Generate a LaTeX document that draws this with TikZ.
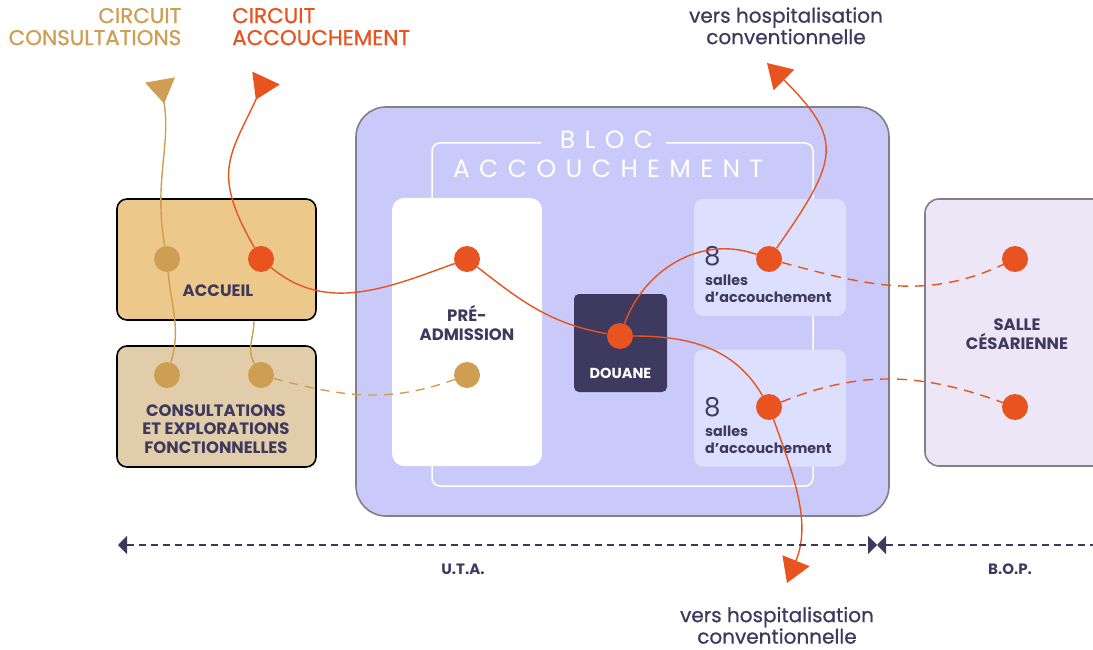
\documentclass[tikz,border=0pt]{standalone}
\usepackage{fontspec}
\setmainfont{Poppins}
\usetikzlibrary{arrows.meta, positioning}

\definecolor{ink}{HTML}{3E3A5F}
\definecolor{accor}{HTML}{E8531F}
\definecolor{consor}{HTML}{CE9E52}
\definecolor{blocfill}{HTML}{C9CAF9}
\definecolor{sallefill}{HTML}{DCDFFD}
\definecolor{accfill}{HTML}{ECC98A}
\definecolor{consfill}{HTML}{E2CDAA}
\definecolor{cesfill}{HTML}{ECE6F6}
\definecolor{rim}{HTML}{808086}

\begin{document}
\begin{tikzpicture}[
  x=1pt, y=-1pt,
  zone/.style={draw=black, line width=1.6pt, rounded corners=10pt,
    minimum width=199pt, minimum height=121pt, inner sep=0pt},
  room/.style={fill=sallefill, rounded corners=9pt,
    minimum width=152pt, minimum height=117pt, inner sep=0pt},
  spot/.style={circle, fill=#1, minimum size=26pt, inner sep=0pt},
  lbl/.style={text=ink, align=center, inner sep=0pt,
    font=\bfseries\fontsize{16.5}{18.5}\selectfont},
  hosp/.style={text=ink, align=center, inner sep=0pt,
    font=\fontsize{20}{21.5}\selectfont\addfontfeatures{FakeBold=0.8}},
  circuit/.style={inner sep=0pt,
    font=\fontsize{21.5}{22}\selectfont\addfontfeatures{FakeBold=0.8}},
  rtxt/.style={text=ink, inner sep=0pt, font=\bfseries\fontsize{14.3}{15}\selectfont},
  num/.style={text=ink, inner sep=0pt, font=\fontsize{26}{28}\selectfont},
  titre/.style={text=white, inner sep=0pt,
    font=\fontsize{25}{28}\selectfont\addfontfeatures{LetterSpace=37.5}},
  flow/.style={draw=accor, line width=1.4pt},
  cflow/.style={draw=consor, line width=1.4pt},
  outhead/.style={-{Triangle[length=24pt, width=29pt]}},
  inhead/.style={-{Triangle[reversed, length=24pt, width=30pt]}},
  ruler/.style={draw=ink, line width=1.5pt, dash pattern=on 7pt off 5pt}
]
\useasboundingbox (0,0) rectangle (1093,650);

% bloc accouchement
\node[draw=rim, fill=blocfill, line width=1.6pt, rounded corners=30pt,
  minimum width=533pt, minimum height=409pt, inner sep=0pt] (bloc) at (622.5,311.5) {};
\draw[white, line width=1.5pt, rounded corners=8pt]
  (541,143) -| (432,486) -| (813,143) -- (666,143);
\node[titre] (titre1) at (606.5,140) {BLOC};
\node[titre] (titre2) at (608,168.5) {ACCOUCHEMENT};

\node[fill=white, rounded corners=12pt, minimum width=150pt, minimum height=268pt,
  inner sep=0pt] (preadm) at (467,332) {};
\node[room] (salles1) at (770,257.5) {};
\node[room] (salles2) at (770,408) {};
\node[fill=ink, rounded corners=5pt, minimum width=93pt, minimum height=98pt,
  inner sep=0pt] (douane) at (620.5,343) {};

% zones U.T.A. / B.O.P.
\node[zone, fill=accfill] (accueil) at (216.5,259.5) {};
\node[zone, fill=consfill] (consult) at (216.5,406.5) {};
\node[draw=rim, fill=cesfill, line width=1.6pt, rounded corners=14pt,
  minimum width=185pt, minimum height=267pt, inner sep=0pt] (cesar) at (1017.5,332.5) {};

% textes
\node[lbl] (tacc) at (218,291) {ACCUEIL};
\node[lbl] (tcons) at (216,429) {CONSULTATIONS\\ET EXPLORATIONS\\FONCTIONNELLES};
\node[lbl] (tpre) at (467,323) {PRÉ-\\ADMISSION};
\node[lbl, text=white, font=\bfseries\fontsize{14.5}{18}\selectfont] (tdou) at (620.5,373) {DOUANE};
\node[lbl] (tces) at (1017,334) {SALLE\\CÉSARIENNE};
\node[num, anchor=base west] (n1) at (704,265) {8};
\node[rtxt, anchor=base west] (s1a) at (705,285) {salles};
\node[rtxt, anchor=base west] (s1b) at (705,302) {d’accouchement};
\node[num, anchor=base west] (n2) at (704,416) {8};
\node[rtxt, anchor=base west] (s2a) at (705,436) {salles};
\node[rtxt, anchor=base west] (s2b) at (705,453) {d’accouchement};

\node[circuit, text=consor, align=right, anchor=south east] (ccons) at (181.5,45.5) {CIRCUIT\\CONSULTATIONS};
\node[circuit, text=accor, align=left, anchor=south west] (cacc) at (232,45.5) {CIRCUIT\\ACCOUCHEMENT};
\node[hosp, anchor=south] (hhaut) at (786,44.5) {vers hospitalisation\\conventionnelle};
\node[hosp, anchor=south] (hbas) at (777,644) {vers hospitalisation\\conventionnelle};

% points de passage
\node[spot=consor] (g1) at (167,259) {};
\node[spot=consor] (g2) at (167,375) {};
\node[spot=consor] (g3) at (261,375) {};
\node[spot=consor] (g4) at (467,375) {};
\node[spot=accor] (o1) at (261,259) {};
\node[spot=accor] (o2) at (467,259) {};
\node[spot=accor] (o3) at (620,336) {};
\node[spot=accor] (o4) at (769,259) {};
\node[spot=accor] (o5) at (769,407) {};
\node[spot=accor] (o6) at (1015,259) {};
\node[spot=accor] (o7) at (1015,407) {};

\coordinate (ga) at (160,80);
\coordinate (gs) at (254,321);
\coordinate (oa) at (266,78);
\coordinate (ot) at (767,63);
\coordinate (ob) at (787,583);

% circuit consultations
\draw[cflow, inhead] (g1) to[out=100, in=-80] (ga);
\draw[cflow] (g1) to[out=-85, in=73] (g2);
\draw[cflow] (gs) to[out=-90, in=120] (g3);
\draw[cflow, dash pattern=on 9pt off 7pt] (g3) to[out=-15, in=-160] (g4);

% circuit accouchement
\draw[flow, inhead] (o1) to[out=120, in=-115, looseness=1.3] (oa);
\draw[flow] (o1) to[out=-40, in=-160] (o2);
\draw[flow] (o2) to[out=-38, in=170] (o3);
\draw[flow] (o3) to[out=0, in=120] (o5);
\draw[flow, outhead] (o5) to[out=-70, in=68] (ob);
\draw[flow] (o3) to[out=70, in=160] (o4);
\draw[flow, outhead] (o4) to[out=55, in=-45, looseness=1.5] (ot);
\draw[flow, dash pattern=on 10pt off 7pt] (o4) to[out=-15, in=-155] (o6);
\draw[flow, dash pattern=on 10pt off 7pt] (o5) to[out=22, in=160] (o7);

% U.T.A. / B.O.P.
\coordinate (tl) at (118,545);
\coordinate (tm) at (877,545);
\coordinate (tr) at (1100,545);
\draw[ruler, {Triangle[length=9pt, width=18pt]}-{Triangle[length=9pt, width=18pt]}] (tl) -- (tm);
\draw[ruler, {Triangle[length=9pt, width=18pt]}-] (tm) -- (tr);
\node[rtxt, font=\bfseries\fontsize{15}{16}\selectfont] (uta) at (463,569) {U.T.A.};
\node[rtxt, font=\bfseries\fontsize{15}{16}\selectfont] (bop) at (1010,569) {B.O.P.};

\end{tikzpicture}
\end{document}
